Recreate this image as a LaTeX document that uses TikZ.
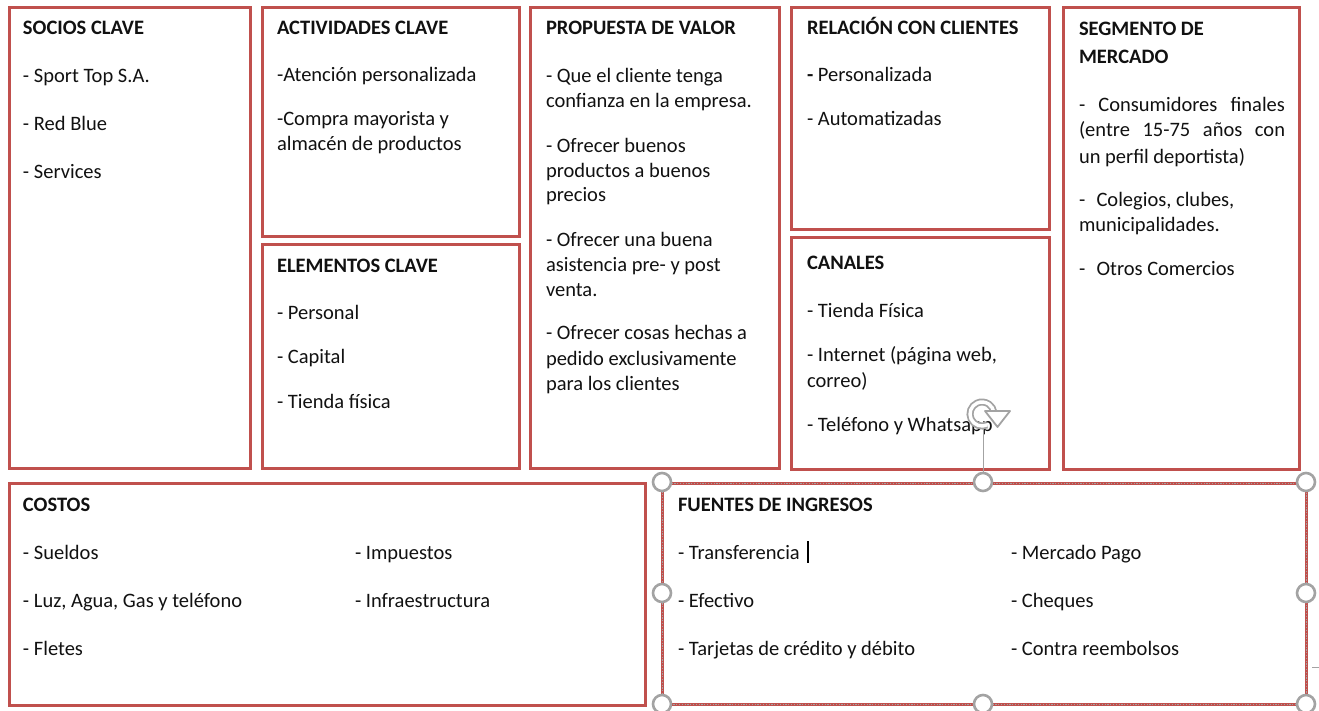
\documentclass[tikz,border=0pt]{standalone}
\usepackage{fontspec}
\setmainfont{Carlito}
\definecolor{boxred}{HTML}{C0504D}
\definecolor{selgray}{HTML}{A3A3A3}
\definecolor{txtc}{HTML}{111111}
\begin{document}
\begin{tikzpicture}[x=1pt,y=-1pt,
  box/.style={draw=boxred,line width=3pt},
  txt/.style={anchor=base west,inner sep=0pt,outer sep=0pt,text=txtc,font=\fontsize{20.5}{25}\selectfont},
  hd/.style={txt,font=\fontsize{20.5}{25}\selectfont\bfseries},
  handle/.style={circle,draw=selgray,line width=2.6pt,fill=white,minimum size=18pt,inner sep=0pt}]
\clip (0,0) rectangle (1319,710);
\fill[white] (0,0) rectangle (1319,710);
% boxes
\draw[box] (9,7) rectangle (250,468);
\draw[box] (262.5,7) rectangle (519.5,236);
\draw[box] (262.5,244) rectangle (519.5,468);
\draw[box] (530.5,7) rectangle (779.5,468);
\draw[box] (791.5,7) rectangle (1049.5,229);
\draw[box] (791.5,237) rectangle (1049.5,469);
\draw[box] (1063,7) rectangle (1299.5,469.5);
\draw[box] (9,483) rectangle (645.5,705);
\draw[box] (662,483) rectangle (1306,704);
\draw[selgray,line width=1pt,dash pattern=on 1.2pt off 1.6pt] (662,483) rectangle (1306,704);
% SOCIOS
\node[hd]  (s0) at (23,34) {SOCIOS CLAVE};
\node[txt] (s1) at (23,82) {- Sport Top S.A.};
\node[txt] (s2) at (23,130) {- Red Blue};
\node[txt] (s3) at (23,178) {- Services};
% ACTIVIDADES
\node[hd]  (a0) at (277,34) {ACTIVIDADES CLAVE};
\node[txt] (a1) at (277,81) {-Atención personalizada};
\node[txt] (a2) at (277,125) {-Compra mayorista y};
\node[txt] (a3) at (277,150) {almacén de productos};
% ELEMENTOS
\node[hd]  (e0) at (277,272) {ELEMENTOS CLAVE};
\node[txt] (e1) at (277,319) {- Personal};
\node[txt] (e2) at (277,363) {- Capital};
\node[txt] (e3) at (277,408) {- Tienda física};
% PROPUESTA
\node[hd]  (p0) at (546,34) {PROPUESTA DE VALOR};
\node[txt] (p1) at (546,82) {- Que el cliente tenga};
\node[txt] (p2) at (546,107) {confianza en la empresa.};
\node[txt] (p3) at (546,152) {- Ofrecer buenos};
\node[txt] (p4) at (546,177) {productos a buenos};
\node[txt] (p5) at (546,201) {precios};
\node[txt] (p6) at (546,246) {- Ofrecer una buena};
\node[txt] (p7) at (546,271) {asistencia pre- y post};
\node[txt] (p8) at (546,296) {venta.};
\node[txt] (p9) at (546,339) {- Ofrecer cosas hechas a};
\node[txt] (p10) at (546,365) {pedido exclusivamente};
\node[txt] (p11) at (546,390) {para los clientes};
% RELACION
\node[hd]  (r0) at (807,34) {RELACIÓN CON CLIENTES};
\node[txt] (r1) at (807,81) {\textbf{-} Personalizada};
\node[txt] (r2) at (807,125) {- Automatizadas};
% CANALES
\node[hd]  (c0) at (807,269) {CANALES};
\node[txt] (c1) at (807,317) {- Tienda Física};
\node[txt] (c2) at (807,361) {- Internet (página web,};
\node[txt] (c3) at (807,387) {correo)};
\node[txt] (c4) at (807,431) {- Teléfono y Whatsapp};
% SEGMENTO
\node[hd]  (g0) at (1079,35) {SEGMENTO DE};
\node[hd]  (g1) at (1079,63) {MERCADO};
\node[txt] (g2) at (1079,111) {\makebox[206pt][s]{- Consumidores finales}};
\node[txt] (g3) at (1079,136) {\makebox[206pt][s]{(entre 15-75 años con}};
\node[txt] (g4) at (1079,163) {un perfil deportista)};
\node[txt] (g5) at (1079,206) {-\hspace{0.55em}Colegios, clubes,};
\node[txt] (g6) at (1079,231) {municipalidades.};
\node[txt] (g7) at (1079,275) {-\hspace{0.55em}Otros Comercios};
% COSTOS
\node[hd]  (k0) at (23,511) {COSTOS};
\node[txt] (k1) at (23,559) {- Sueldos};
\node[txt] (k2) at (23,607) {- Luz, Agua, Gas y teléfono};
\node[txt] (k3) at (23,655) {- Fletes};
\node[txt] (k4) at (355,559) {- Impuestos};
\node[txt] (k5) at (355,607) {- Infraestructura};
% FUENTES
\node[hd]  (f0) at (678,511) {FUENTES DE INGRESOS};
\node[txt] (f1) at (678,559) {- Transferencia};
\node[txt] (f2) at (678,607) {- Efectivo};
\node[txt] (f3) at (678,655) {- Tarjetas de crédito y débito};
\node[txt] (f4) at (1011,559) {- Mercado Pago};
\node[txt] (f5) at (1011,607) {- Cheques};
\node[txt] (f6) at (1011,655) {- Contra reembolsos};
% text cursor
\draw[black,line width=1.1pt] (808,541) -- (808,563);
% selection handles
\coordinate (rc) at (982,414);
\node[handle] (h1) at (662,482) {};
\node[handle] (h2) at (983,482) {};
\node[handle] (h3) at (1306,482) {};
\node[handle] (h4) at (662,593) {};
\node[handle] (h5) at (1306,593) {};
\node[handle] (h6) at (662,704) {};
\node[handle] (h7) at (983,704) {};
\node[handle] (h8) at (1306,704) {};
% rotation handle
\coordinate (rb) at (983,429);
\draw[selgray,line width=1pt] (rb) -- (h2.north);
\draw[selgray,line width=7pt] (rc) ++(65:12) arc[start angle=65,end angle=352,radius=12];
\draw[white,line width=3.4pt] (rc) ++(65:12) arc[start angle=65,end angle=352,radius=12];
\draw[selgray,line width=1.8pt,fill=white,line join=round] (985,411) -- (1010,411) -- (997.5,427) -- cycle;
% small mark at right edge
\draw[selgray,line width=0.8pt] (1312,667) -- (1319,667);
\end{tikzpicture}
\end{document}
